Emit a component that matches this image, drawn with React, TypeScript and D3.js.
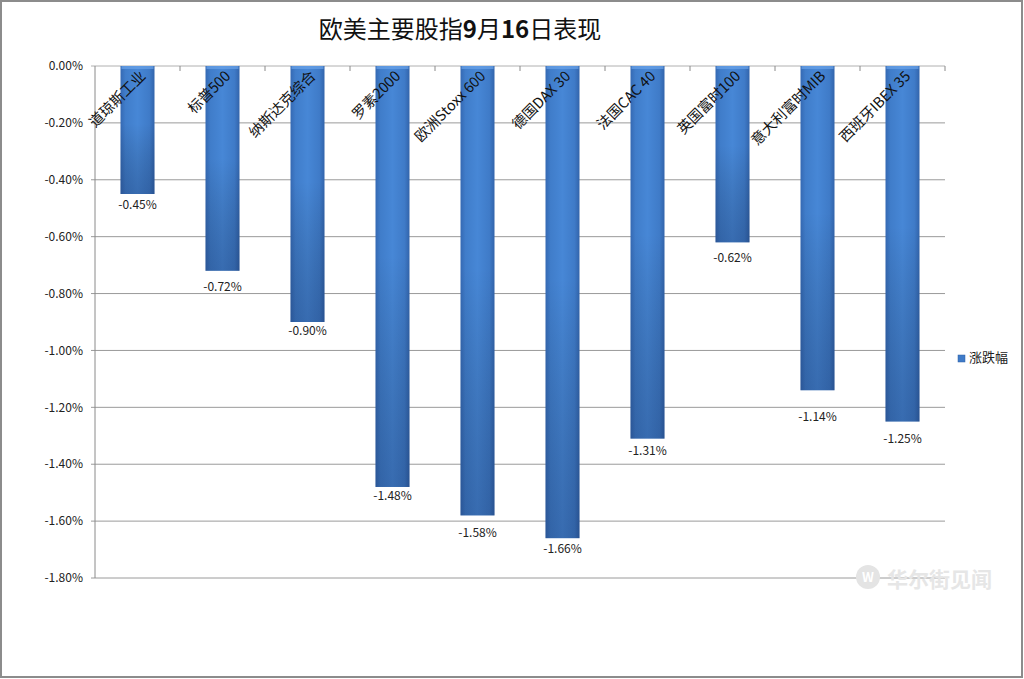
import React from "react";
import * as d3 from "d3";

const categories = ["道琼斯工业", "标普500", "纳斯达克综合", "罗素2000", "欧洲Stoxx 600", "德国DAX 30", "法国CAC 40", "英国富时100", "意大利富时MIB", "西班牙IBEX 35"];
const values = [-0.45, -0.72, -0.9, -1.48, -1.58, -1.66, -1.31, -0.62, -1.14, -1.25];
const yTicks = [0, -0.2, -0.4, -0.6, -0.8, -1.0, -1.2, -1.4, -1.6, -1.8];
const titleParts = [
  { t: "欧美主要股指", b: false },
  { t: "9", b: true },
  { t: "月", b: false },
  { t: "16", b: true },
  { t: "日表现", b: false },
];
const seriesName = "涨跌幅";

const W = 1024, H = 679;
const left = 95, right = 945, top = 66, bottom = 578;
const FONT = "'Noto Sans CJK SC', 'Noto Sans', sans-serif";

export default function App() {
  const x = d3.scaleBand<string>().domain(categories).range([left, right]).paddingInner(0).paddingOuter(0);
  const y = d3.scaleLinear().domain([-1.8, 0]).range([bottom, top]);
  const bw = x.bandwidth() * 0.4;
  const fmt = (v: number) => (v < 0 ? "-" : "") + d3.format(".2f")(Math.abs(v)) + "%";
  // data-label offsets below bar ends (manually placed labels in the original)
  const labelGap = [11, 16, 9, 9, 17, 11, 12, 15, 27, 17];
  return (
    <svg width={W} height={H} style={{ position: "absolute", left: 0, top: 0, background: "#fff" }} fontFamily={FONT}>
      <defs>
        <linearGradient id="gh" x1="0" y1="0" x2="1" y2="0">
          <stop offset="0" stopColor="#3569b3" />
          <stop offset="0.15" stopColor="#407dca" />
          <stop offset="0.5" stopColor="#4787d6" />
          <stop offset="0.85" stopColor="#3f7bc8" />
          <stop offset="1" stopColor="#3264ab" />
        </linearGradient>
        <linearGradient id="gv" x1="0" y1="0" x2="0" y2="1">
          <stop offset="0" stopColor="#ffffff" stopOpacity="0" />
          <stop offset="0.45" stopColor="#000000" stopOpacity="0" />
          <stop offset="1" stopColor="#0a1a40" stopOpacity="0.25" />
        </linearGradient>
      </defs>
      <rect x={1} y={1} width={W - 3} height={H - 3} fill="#fff" stroke="#8c8c8c" strokeWidth={2} />
      <text x={460} y={38} textAnchor="middle" fontSize={24} fill="#111">
        {titleParts.map((p, i) => (
          <tspan key={i} fontWeight={p.b ? "bold" : "normal"}>{p.t}</tspan>
        ))}
      </text>
      {yTicks.map((t) => (
        <g key={t}>
          <line x1={left - 4} x2={right} y1={y(t)} y2={y(t)} stroke={t === 0 ? "#b0b0b0" : "#9a9a9a"} strokeWidth={1} />
          <text x={83} y={y(t)} dy="0.35em" textAnchor="end" fontSize={12} fill="#222">{fmt(t)}</text>
        </g>
      ))}
      <line x1={left} x2={left} y1={top} y2={bottom} stroke="#8a8a8a" />
      {categories.map((c, i) => (
        <line key={"t" + i} x1={left + x.bandwidth() * (i + 1)} x2={left + x.bandwidth() * (i + 1)} y1={top} y2={top + 5} stroke="#8a8a8a" />
      ))}
      {categories.map((c, i) => {
        const cx = (x(c) as number) + x.bandwidth() / 2;
        const y0 = y(0), y1 = y(values[i]);
        return (
          <g key={c}>
            <rect x={cx - bw / 2} y={y0} width={bw} height={y1 - y0} fill="url(#gh)" />
            <rect x={cx - bw / 2} y={y0} width={bw} height={y1 - y0} fill="url(#gv)" />
            <rect x={cx - bw / 2 + 1} y={y0} width={bw - 2} height={3} fill="#6aa3e8" opacity={0.7} />
            <text x={cx} y={y1 + labelGap[i]} dy="0.35em" textAnchor="middle" fontSize={12} fill="#222">{fmt(values[i])}</text>
          </g>
        );
      })}
      {categories.map((c) => {
        const cx = (x(c) as number) + x.bandwidth() / 2;
        return (
          <text key={"l" + c} transform={`translate(${cx + 9},${top + 11}) rotate(-45)`} textAnchor="end" fontSize={14.5} fill="#111">{c}</text>
        );
      })}
      <rect x={958} y={355} width={7} height={7} fill="#3f7bc8" stroke="#2f5fa5" strokeWidth={0.5} />
      <text x={969} y={362} fontSize={13} fill="#222">{seriesName}</text>
      <g>
        <circle cx={868} cy={577} r={12} fill="#e4e4e4" />
        <text x={868} y={582} textAnchor="middle" fontSize={13} fontWeight="bold" fill="#fff">W</text>
        <text x={887} y={587} fontSize={21} fontWeight="bold" fill="#e6e6e6">华尔街见闻</text>
      </g>
    </svg>
  );
}
